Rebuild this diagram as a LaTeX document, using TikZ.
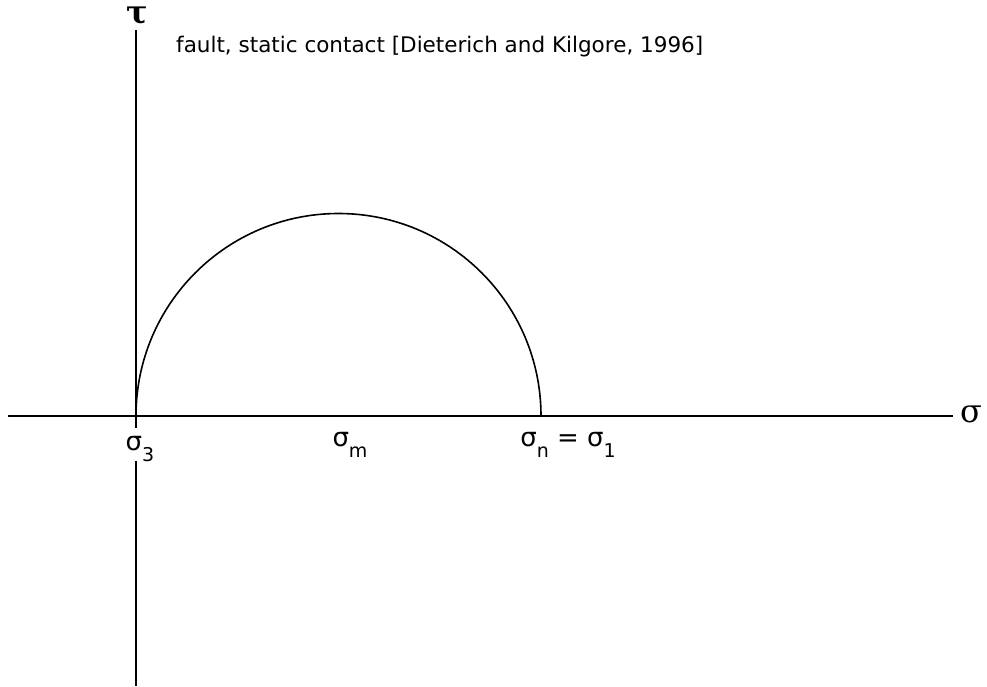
\documentclass[tikz,border=0pt]{standalone}
\usepackage{fontspec}
\setmainfont{DejaVu Sans}
\newfontfamily\greekserif{DejaVu Serif}
\newcommand{\subx}[1]{\raisebox{-0.45em}{\fontsize{19}{21}\selectfont #1}}
\begin{document}
\begin{tikzpicture}[x=1pt,y=-1pt,
  axis/.style={line width=1.9pt,black},
  circ/.style={line width=1.6pt,black},
  lbl/.style={inner sep=0pt,anchor=base,font=\fontsize{26}{28}\selectfont},
  axlbl/.style={inner sep=0pt,font=\greekserif\bfseries\fontsize{32}{34}\selectfont}]
\useasboundingbox (0,0) rectangle (987,687);
\node[axlbl] (tau) at (137,16) {τ};
\node[axlbl,font=\greekserif\fontsize{32}{34}\selectfont] (sig) at (971,414) {σ};
\coordinate (xl) at (8,416);
\coordinate (xr) at (953,416);
\coordinate (yt) at (136,30);
\coordinate (yb) at (136,686);
\node[lbl] (s3) at (140,450) {σ\subx{3}};
\coordinate (ym1) at (136,428);
\coordinate (ym2) at (136,461);
\node[lbl] (sm) at (350,446) {σ\subx{m}};
\node[lbl] (sn) at (568,446) {σ\subx{n} = σ\subx{1}};
\node[anchor=base west,inner sep=0pt,font=\fontsize{21.5}{24}\selectfont] (title) at (176,53) {fault, static contact [Dieterich and Kilgore, 1996]};
\draw[axis] (xl) -- (xr);
\draw[axis] (yt) -- (ym1);
\draw[axis] (ym2) -- (yb);
\draw[circ] (136,416) arc[start angle=180,end angle=360,radius=202.5];
\end{tikzpicture}
\end{document}
